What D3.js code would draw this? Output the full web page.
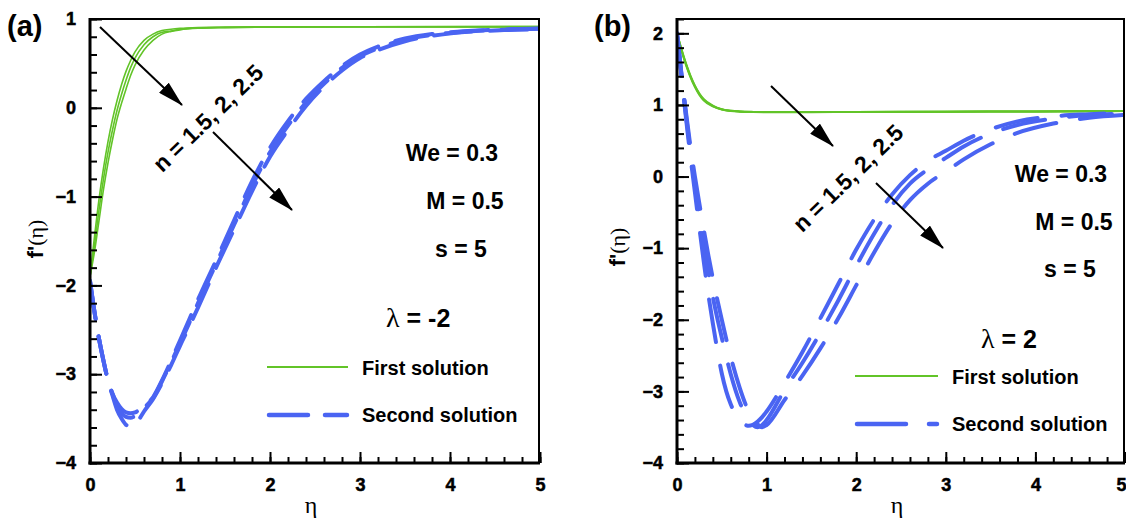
<!DOCTYPE html>
<html>
<head>
<meta charset="utf-8">
<script src="https://cdn.jsdelivr.net/npm/d3@7"></script>
<style>
  body { margin: 0; background: #fff; }
  svg { display: block; }
</style>
</head>
<body>
<script>
// ---- data ----
var nValues = ["1.5", "2", "2.5"];
var xTicks = [0, 1, 2, 3, 4, 5];
var yTicksA = [-4, -3, -2, -1, 0, 1];
var yTicksB = [-4, -3, -2, -1, 0, 1, 2];

// (a) lambda = -2, first solution
var etaGreenA = [0, 0.05, 0.1, 0.15, 0.2, 0.25, 0.3, 0.35, 0.4, 0.45, 0.5, 0.6, 0.7, 0.8, 0.9, 1.0, 1.2, 1.5, 2, 3, 5];
var greenA15 = [-1.9, -1.45, -1.03, -0.68, -0.38, -0.13, 0.08, 0.26, 0.41, 0.53, 0.63, 0.76, 0.83, 0.87, 0.885, 0.895, 0.905, 0.91, 0.912, 0.913, 0.915];
var greenA2  = [-1.9, -1.55, -1.15, -0.8, -0.5, -0.25, -0.03, 0.15, 0.31, 0.45, 0.56, 0.71, 0.8, 0.85, 0.865, 0.885, 0.9, 0.905, 0.91, 0.912, 0.915];
var greenA25 = [-1.9, -1.62, -1.27, -0.92, -0.62, -0.36, -0.13, 0.05, 0.21, 0.36, 0.48, 0.65, 0.76, 0.83, 0.86, 0.878, 0.895, 0.903, 0.908, 0.91, 0.912];

// (a) second solution
var etaBlueA = [0, 0.05, 0.1, 0.15, 0.2, 0.25, 0.3, 0.35, 0.4, 0.45, 0.5, 0.55, 0.6, 0.7, 0.8, 0.9, 1.0, 1.1, 1.2, 1.4, 1.6, 1.8, 2.0, 2.2, 2.4, 2.6, 2.8, 3.0, 3.2, 3.5, 3.8, 4.2, 4.6, 5.0];
var blueA15 = [-1.95, -2.3, -2.6, -2.85, -3.07, -3.22, -3.32, -3.39, -3.43, -3.44, -3.43, -3.4, -3.36, -3.26, -3.07, -2.85, -2.62, -2.39, -2.16, -1.72, -1.27, -0.83, -0.45, -0.15, 0.1, 0.3, 0.47, 0.6, 0.69, 0.78, 0.83, 0.865, 0.882, 0.892];
var blueA2  = [-1.95, -2.3, -2.6, -2.85, -3.07, -3.22, -3.36, -3.44, -3.48, -3.49, -3.47, -3.43, -3.38, -3.27, -3.08, -2.87, -2.65, -2.43, -2.2, -1.76, -1.32, -0.88, -0.5, -0.2, 0.06, 0.27, 0.45, 0.58, 0.67, 0.77, 0.82, 0.86, 0.88, 0.89];
var blueA25 = [-1.95, -2.3, -2.6, -2.85, -3.07, -3.24, -3.4, -3.5, -3.57, -3.59, -3.56, -3.5, -3.42, -3.28, -3.1, -2.9, -2.68, -2.47, -2.25, -1.8, -1.37, -0.94, -0.55, -0.25, 0.02, 0.24, 0.42, 0.56, 0.65, 0.75, 0.81, 0.855, 0.875, 0.885];

// (b) lambda = 2, first solution
var etaGreenB = [0, 0.05, 0.1, 0.15, 0.2, 0.25, 0.3, 0.4, 0.5, 0.6, 0.7, 0.85, 1.0, 1.5, 2, 3, 4, 5];
var greenB15 = [2.0, 1.78, 1.58, 1.41, 1.27, 1.16, 1.08, 0.99, 0.94, 0.92, 0.91, 0.903, 0.9, 0.9, 0.902, 0.905, 0.91, 0.915];
var greenB2  = [2.0, 1.77, 1.57, 1.4, 1.26, 1.15, 1.07, 0.985, 0.938, 0.918, 0.908, 0.902, 0.9, 0.9, 0.902, 0.905, 0.91, 0.915];
var greenB25 = [2.0, 1.76, 1.56, 1.39, 1.25, 1.14, 1.06, 0.98, 0.935, 0.915, 0.906, 0.9, 0.898, 0.899, 0.901, 0.905, 0.91, 0.915];

// (b) second solution
var etaBlueB = [0, 0.05, 0.1, 0.15, 0.2, 0.25, 0.3, 0.35, 0.4, 0.45, 0.5, 0.55, 0.6, 0.7, 0.8, 0.9, 0.95, 1.0, 1.2, 1.4, 1.6, 1.8, 2.0, 2.2, 2.4, 2.6, 2.8, 3.0, 3.2, 3.5, 3.8, 4.2, 4.6, 5.0];
var blueB15 = [2.0, 1.4, 0.82, 0.28, -0.22, -0.72, -1.2, -1.65, -2.05, -2.42, -2.75, -3.0, -3.18, -3.4, -3.48, -3.42, -3.36, -3.28, -2.88, -2.45, -1.98, -1.5, -1.02, -0.6, -0.25, 0.02, 0.22, 0.36, 0.5, 0.66, 0.77, 0.84, 0.87, 0.89];
var blueB2  = [2.0, 1.42, 0.86, 0.35, -0.12, -0.55, -0.95, -1.33, -1.68, -1.98, -2.25, -2.52, -2.76, -3.15, -3.4, -3.5, -3.47, -3.4, -2.98, -2.6, -2.18, -1.73, -1.25, -0.8, -0.4, -0.1, 0.1, 0.26, 0.42, 0.6, 0.72, 0.81, 0.86, 0.88];
var blueB25 = [2.0, 1.43, 0.9, 0.42, 0.0, -0.38, -0.75, -1.1, -1.42, -1.72, -2.0, -2.27, -2.52, -2.95, -3.28, -3.46, -3.5, -3.47, -3.12, -2.78, -2.4, -1.98, -1.52, -1.06, -0.65, -0.33, -0.1, 0.07, 0.24, 0.45, 0.61, 0.74, 0.82, 0.86];

var GREEN = "#62c428";
var BLUE = "#4a64f2";
var SANS = "Liberation Sans, Arial, Helvetica, sans-serif";
var SERIF = "Liberation Serif, Times New Roman, serif";

var svg = d3.select("body").append("svg")
    .attr("width", 1126)
    .attr("height", 520);

var defs = svg.append("defs");
defs.append("marker")
    .attr("id", "head")
    .attr("markerUnits", "userSpaceOnUse")
    .attr("markerWidth", 26)
    .attr("markerHeight", 14)
    .attr("refX", 25)
    .attr("refY", 7)
    .attr("orient", "auto")
  .append("path")
    .attr("d", "M0,0 L26,7 L0,14 Z")
    .attr("fill", "black");

function zip(xs, ys) {
    return xs.map(function(x, i) { return [x, ys[i]]; });
}

function drawPanel(p) {
    var top = 19, bottom = 463;
    var x = d3.scaleLinear().domain([0, 5]).range([p.left, p.right]);
    var y = d3.scaleLinear().domain(p.yDomain).range([bottom, top]);
    var g = svg.append("g");

    defs.append("clipPath").attr("id", "clip" + p.id)
      .append("rect")
        .attr("x", p.left).attr("y", top)
        .attr("width", p.right - p.left).attr("height", bottom - top);

    var line = d3.line()
        .x(function(d) { return x(d[0]); })
        .y(function(d) { return y(d[1]); })
        .curve(d3.curveMonotoneX);

    var plot = g.append("g").attr("clip-path", "url(#clip" + p.id + ")");

    p.green.forEach(function(s) {
        plot.append("path")
            .attr("d", line(zip(p.etaGreen, s)))
            .attr("fill", "none")
            .attr("stroke", GREEN)
            .attr("stroke-width", p.greenWidth);
    });
    p.blue.forEach(function(s) {
        plot.append("path")
            .attr("d", line(zip(p.etaBlue, s)))
            .attr("fill", "none")
            .attr("stroke", BLUE)
            .attr("stroke-width", 4)
            .attr("stroke-linecap", "round")
            .attr("stroke-dasharray", p.dash);
    });

    // frame top / right
    g.append("line").attr("x1", p.left).attr("x2", p.right).attr("y1", top).attr("y2", top)
        .attr("stroke", "black").attr("stroke-width", 2);
    g.append("line").attr("x1", p.right - 1).attr("x2", p.right - 1).attr("y1", top).attr("y2", bottom)
        .attr("stroke", "black").attr("stroke-width", 2);

    // minor ticks
    var yMin = p.yDomain[0], yMax = p.yDomain[1];
    var yMinor = d3.range(Math.round(yMin * 5), Math.round(yMax * 5) + 1).map(function(k) { return k / 5; });
    var xMinor = d3.range(0, 26).map(function(k) { return k / 5; });

    g.append("g").attr("transform", "translate(" + p.left + ",0)")
        .call(d3.axisLeft(y).tickValues(yMinor).tickSize(-7).tickFormat(""))
        .call(function(a) { a.select(".domain").remove(); a.selectAll("line").attr("stroke-width", 2); });
    g.append("g").attr("transform", "translate(0," + bottom + ")")
        .call(d3.axisBottom(x).tickValues(xMinor).tickSize(-6).tickFormat(""))
        .call(function(a) { a.select(".domain").remove(); a.selectAll("line").attr("stroke-width", 2); });

    // major axes
    var ya = g.append("g").attr("transform", "translate(" + p.left + ",0)")
        .call(d3.axisLeft(y).tickValues(p.yTicks).tickSize(-12).tickSizeOuter(0).tickPadding(14).tickFormat(d3.format("d")));
    var xa = g.append("g").attr("transform", "translate(0," + bottom + ")")
        .call(d3.axisBottom(x).tickValues(xTicks).tickSize(-11).tickSizeOuter(0).tickPadding(15).tickFormat(d3.format("d")));
    [ya, xa].forEach(function(a) {
        a.select(".domain").attr("stroke-width", 3);
        a.selectAll("line").attr("stroke-width", 2);
        a.selectAll("text")
            .attr("font-family", SANS)
            .style("font-weight", "bold")
            .attr("font-size", 18).attr("fill", "black")
            .attr("stroke", "black").attr("stroke-width", 0.5);
    });
    ya.select(".domain").attr("d", "M0," + (top - 1) + "V" + (bottom + 1.5));
    xa.select(".domain").attr("d", "M" + (p.left - 1.5) + ",0H" + p.right);
    if (p.right > 1100) {
        // last label sits on the window edge, as in the figure
        xa.selectAll("text").filter(function(d) { return d === 5; }).attr("dx", -4);
    }

    // panel letter
    g.append("text").attr("x", p.letterX).attr("y", 36)
        .attr("font-family", SANS).attr("font-weight", "bold").attr("font-size", 29)
        .text(p.letter);

    // axis titles
    g.append("text").attr("x", (p.left + p.right) / 2 - 4).attr("y", 513)
        .attr("text-anchor", "middle")
        .attr("font-family", SERIF).attr("font-size", 24)
        .text("η");
    var yl = g.append("text")
        .attr("transform", "translate(" + p.ylabX + "," + p.ylabY + ") rotate(-90)")
        .attr("text-anchor", "middle")
        .attr("dominant-baseline", "central");
    yl.append("tspan").attr("font-family", SANS).attr("font-weight", "bold").attr("font-size", 22).text("f'");
    yl.append("tspan").attr("font-family", SERIF).attr("font-size", 22).text("(η)");

    // arrows and n label
    p.arrows.forEach(function(a) {
        g.append("line")
            .attr("x1", a[0]).attr("y1", a[1]).attr("x2", a[2]).attr("y2", a[3])
            .attr("stroke", "black").attr("stroke-width", 2)
            .attr("marker-end", "url(#head)");
    });
    g.append("text")
        .attr("transform", "translate(" + p.nLab[0] + "," + p.nLab[1] + ") rotate(-44)")
        .attr("text-anchor", "middle").attr("dominant-baseline", "central")
        .attr("font-family", SANS).attr("font-weight", "bold").attr("font-size", 23)
        .text("n = " + nValues.join(", "));

    // parameters
    p.params.forEach(function(t) {
        g.append("text").attr("x", t[1]).attr("y", t[2])
            .attr("text-anchor", "middle")
            .attr("font-family", SANS).attr("font-weight", "bold").attr("font-size", 23)
            .text(t[0]);
    });
    var lam = g.append("text").attr("x", p.lam[0]).attr("y", p.lam[1]).attr("font-size", 25);
    lam.append("tspan").attr("font-family", SERIF).attr("font-size", 28).text("λ");
    lam.append("tspan").attr("font-family", SANS).attr("font-weight", "bold").text(" = " + p.lambda);

    // legend
    var L = p.legend;
    g.append("line").attr("x1", L.x1).attr("x2", L.x2).attr("y1", L.y1).attr("y2", L.y1)
        .attr("stroke", GREEN).attr("stroke-width", 2);
    g.append("line").attr("x1", L.x1 + 2).attr("x2", L.x2 - 1).attr("y1", L.y2).attr("y2", L.y2)
        .attr("stroke", BLUE).attr("stroke-width", 4.5)
        .attr("stroke-linecap", "round").attr("stroke-dasharray", L.dash);
    g.append("text").attr("x", L.tx).attr("y", L.y1 + 8)
        .attr("font-family", SANS).attr("font-weight", "bold").attr("font-size", 20)
        .text("First solution");
    g.append("text").attr("x", L.tx).attr("y", L.y2 + 7)
        .attr("font-family", SANS).attr("font-weight", "bold").attr("font-size", 20)
        .text("Second solution");
}

drawPanel({
    id: "a", letter: "(a)", letterX: 7,
    left: 90, right: 540, yDomain: [-4, 1], yTicks: yTicksA,
    etaGreen: etaGreenA, green: [greenA15, greenA2, greenA25], greenWidth: 1.6,
    etaBlue: etaBlueA, blue: [blueA15, blueA2, blueA25], dash: "38,18",
    ylabX: 35, ylabY: 239,
    arrows: [[100, 27, 182, 105], [213, 132, 292, 210]],
    nLab: [208, 118],
    params: [["We = 0.3", 452, 161], ["M = 0.5", 465, 209], ["s = 5", 461, 257]],
    lam: [386, 327], lambda: "-2",
    legend: { x1: 267, x2: 348, y1: 367, y2: 415, dash: "39,17", tx: 362 }
});

drawPanel({
    id: "b", letter: "(b)", letterX: 594,
    left: 677, right: 1125, yDomain: [-4, 2.2], yTicks: yTicksB,
    etaGreen: etaGreenB, green: [greenB15, greenB2, greenB25], greenWidth: 2,
    etaBlue: etaBlueB, blue: [blueB15, blueB2, blueB25], dash: "43,24",
    ylabX: 617, ylabY: 247,
    arrows: [[771, 86, 833, 146], [876, 183, 943, 248]],
    nLab: [848, 178],
    params: [["We = 0.3", 1061, 182], ["M = 0.5", 1074, 230], ["s = 5", 1070, 277]],
    lam: [981, 348], lambda: "2",
    legend: { x1: 855, x2: 938, y1: 376, y2: 424, dash: "49,23", tx: 952 }
});
</script>
</body>
</html>
